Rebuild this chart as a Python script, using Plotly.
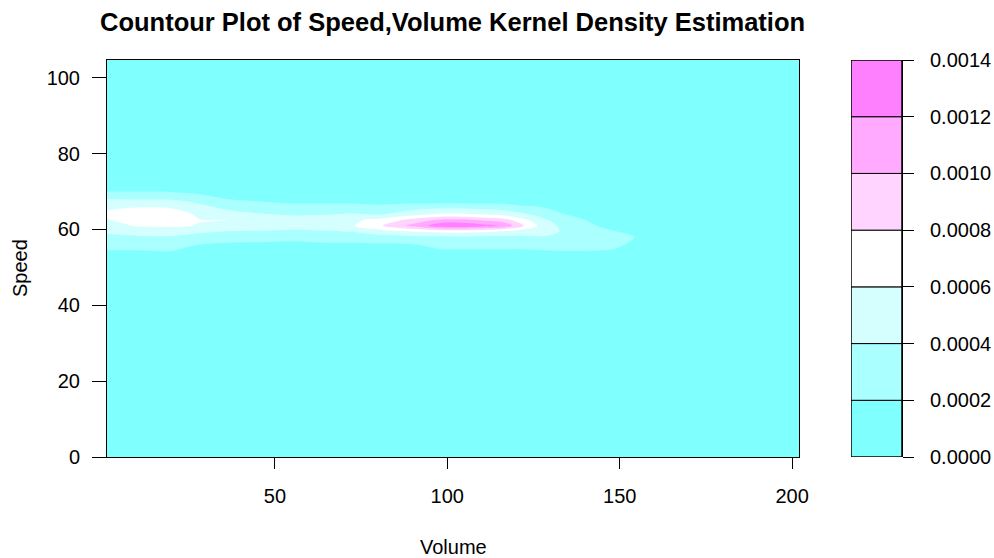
import numpy as np
import plotly.graph_objects as go

# Grid of the kernel density estimate
volume_grid = [1.3, 10, 20, 28, 36, 45, 55, 65, 72, 80, 86, 92, 98, 104, 110,
               116, 122, 128, 135, 145, 155, 165, 180, 202]
speed_grid = [0, 46, 52, 55, 58, 59.5, 61, 62.5, 64, 67, 70, 73, 78, 105]

# density (x 1e-4), one list per volume column, values along speed_grid
density_cols_e4 = [
    [0, 0.3, 1.0, 2.2, 3.6, 4.3, 5.0, 5.8, 6.5, 5.1, 2.0, 0.5, 0.1, 0],
    [0, 0.3, 1.0, 2.2, 3.7, 4.9, 6.2, 7.1, 7.6, 4.9, 2.0, 0.6, 0.1, 0],
    [0, 0.3, 1.0, 2.3, 3.8, 5.0, 6.3, 7.2, 7.3, 4.8, 1.9, 0.6, 0.1, 0],
    [0, 0.2, 0.7, 1.5, 3.0, 4.5, 5.9, 6.1, 5.6, 3.9, 1.4, 0.4, 0.1, 0],
    [0, 0.2, 0.6, 1.5, 2.5, 3.9, 5.6, 6.05, 4.9, 2.6, 0.9, 0.3, 0.05, 0],
    [0, 0.2, 0.5, 1.4, 2.5, 3.8, 5.3, 5.4, 4.2, 2.2, 0.8, 0.2, 0.05, 0],
    [0, 0.15, 0.4, 1.3, 2.4, 3.6, 4.9, 4.8, 3.8, 1.9, 0.6, 0.2, 0.05, 0],
    [0, 0.15, 0.4, 1.4, 2.6, 3.8, 5.2, 5.0, 3.9, 1.9, 0.6, 0.2, 0.05, 0],
    [0, 0.2, 0.4, 1.2, 2.8, 4.1, 5.7, 5.5, 4.2, 1.9, 0.6, 0.2, 0.05, 0],
    [0, 0.2, 0.4, 1.0, 3.2, 5.2, 7.6, 6.6, 3.9, 1.7, 0.5, 0.2, 0.05, 0],
    [0, 0.2, 0.4, 1.0, 3.3, 5.8, 9.5, 7.8, 4.6, 1.8, 0.5, 0.2, 0.05, 0],
    [0, 0.3, 0.5, 1.3, 3.6, 6.2, 11.0, 9.2, 5.6, 1.8, 0.5, 0.2, 0.05, 0],
    [0, 0.3, 0.9, 2.1, 3.6, 6.6, 13.4, 10.4, 6.2, 1.9, 0.5, 0.2, 0.05, 0],
    [0, 0.3, 0.9, 2.1, 3.7, 6.7, 13.6, 10.5, 6.2, 1.9, 0.5, 0.2, 0.05, 0],
    [0, 0.3, 0.9, 2.1, 3.6, 6.3, 12.8, 9.8, 5.9, 1.8, 0.5, 0.2, 0.05, 0],
    [0, 0.3, 0.9, 2.1, 3.6, 5.8, 11.8, 9.0, 5.4, 1.7, 0.5, 0.2, 0.05, 0],
    [0, 0.3, 0.9, 2.1, 3.7, 5.0, 8.1, 6.6, 4.4, 1.2, 0.4, 0.1, 0.05, 0],
    [0, 0.3, 0.9, 2.2, 3.8, 4.9, 5.0, 4.3, 3.2, 1.2, 0.3, 0.1, 0.05, 0],
    [0, 0.3, 1.0, 2.3, 3.6, 3.5, 3.1, 2.6, 1.9, 0.8, 0.2, 0.05, 0, 0],
    [0, 0.3, 1.0, 2.2, 2.6, 2.3, 1.8, 1.4, 1.0, 0.4, 0.1, 0, 0, 0],
    [0, 0.2, 0.8, 1.7, 1.95, 1.6, 1.2, 0.9, 0.6, 0.2, 0.05, 0, 0, 0],
    [0, 0.2, 0.6, 1.1, 1.2, 1.0, 0.8, 0.6, 0.4, 0.1, 0, 0, 0, 0],
    [0, 0.1, 0.3, 0.5, 0.5, 0.4, 0.3, 0.2, 0.15, 0.05, 0, 0, 0, 0],
    [0, 0.05, 0.1, 0.2, 0.2, 0.15, 0.1, 0.1, 0.05, 0, 0, 0, 0, 0],
]

levels = [0.0, 0.0002, 0.0004, 0.0006, 0.0008, 0.0010, 0.0012, 0.0014]
level_colors = ['#80FFFF', '#AAFFFF', '#D5FFFF', '#FFFFFF', '#FFD5FF', '#FFAAFF', '#FF80FF']
x_ticks = [50, 100, 150, 200]
y_ticks = [0, 20, 40, 60, 80, 100]

z = (np.array(density_cols_e4) * 1e-4).T

FONT = "Liberation Sans, Arial, sans-serif"
step = levels[1] - levels[0]
n = len(level_colors)
colorscale = [[i / (n - 1), c] for i, c in enumerate(level_colors)]

fig = go.Figure()
fig.add_trace(go.Contour(
    x=volume_grid, y=speed_grid, z=z,
    contours=dict(start=levels[1], end=levels[-2], size=step,
                  coloring='fill', showlines=False),
    line=dict(width=0),
    colorscale=colorscale, zmin=levels[0] + step / 2, zmax=levels[-1] - step / 2,
    showscale=False, hoverinfo='skip',
))

# key (color bar) drawn as stacked boxes
fig.add_trace(go.Bar(
    x=[0] * n, y=[levels[i + 1] - levels[i] for i in range(n)],
    base=levels[:-1], width=1, cliponaxis=False,
    marker=dict(color=level_colors, line=dict(color='black', width=1)),
    xaxis='x2', yaxis='y2', showlegend=False, hoverinfo='skip',
))

W, H = 994, 558
L, R, T, B = 107, 92, 60, 101
pw = W - L - R
ph = H - T - B
def px(xp):
    return (xp - L) / pw
def py(yp):
    return (H - B - yp) / ph

fig.update_layout(
    width=W, height=H,
    margin=dict(l=L, r=R, t=T, b=B, autoexpand=False),
    paper_bgcolor='white', plot_bgcolor='white',
    font=dict(family=FONT, size=20, color='black'),
    barmode='overlay',
    showlegend=False,
    xaxis=dict(domain=[0, px(799)], range=[volume_grid[0], volume_grid[-1]],
               tickvals=x_ticks, ticks='outside', ticklen=11, tickcolor='black',
               showline=True, linecolor='black', linewidth=1, mirror=True,
               showgrid=False, zeroline=False, ticklabelstandoff=10,
               automargin=False, tickfont=dict(size=20)),
    yaxis=dict(range=[0, 104.7], tickvals=y_ticks, ticks='outside', ticklen=14,
               tickcolor='black', showline=True, linecolor='black', linewidth=1,
               mirror=True, showgrid=False, zeroline=False, ticklabelstandoff=8,
               automargin=False, tickfont=dict(size=20)),
    xaxis2=dict(domain=[px(851), 1], range=[-0.5, 0.5], visible=False,
                anchor='y2', fixedrange=True, automargin=False),
    yaxis2=dict(domain=[0, 1], range=[levels[0], levels[-1]], anchor='x2',
                side='right', tickvals=levels,
                ticktext=[f"{v:.4f}" for v in levels],
                ticks='outside', ticklen=11, tickcolor='black',
                showline=True, linecolor='black', linewidth=1,
                showgrid=False, zeroline=False, ticklabelstandoff=12,
                automargin=False, tickfont=dict(size=20)),
    shapes=[dict(type='rect', xref='x2', yref='y2', x0=-0.5, x1=0.5,
                 y0=levels[0], y1=levels[-1],
                 line=dict(color='black', width=1), fillcolor='rgba(0,0,0,0)',
                 layer='above')],
    annotations=[
        dict(text="<b>Countour Plot of Speed,Volume Kernel Density Estimation</b>",
             xref='paper', yref='paper', x=px(452), y=py(22),
             xanchor='center', yanchor='middle', showarrow=False,
             font=dict(family=FONT, size=25.5, color='black')),
        dict(text="Volume", xref='paper', yref='paper', x=px(453), y=py(547),
             xanchor='center', yanchor='middle', showarrow=False,
             font=dict(family=FONT, size=20, color='black')),
        dict(text="Speed", xref='paper', yref='paper', x=px(20), y=py(268),
             xanchor='center', yanchor='middle', showarrow=False, textangle=-90,
             font=dict(family=FONT, size=20, color='black')),
    ],
)

fig.write_html("out.html")
